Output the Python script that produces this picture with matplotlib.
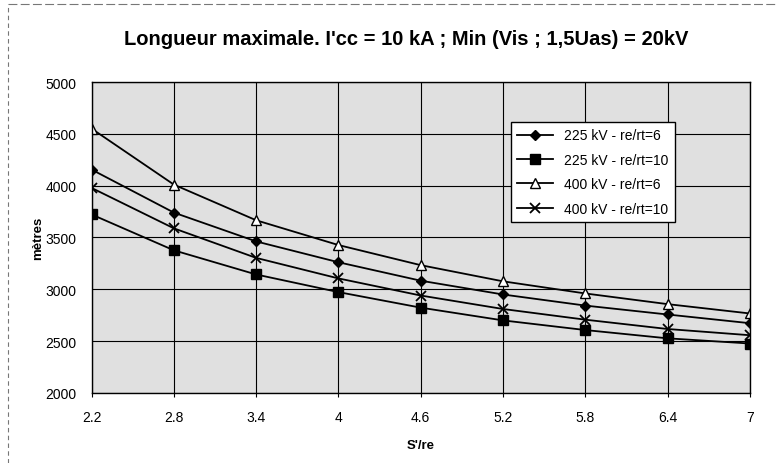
import matplotlib.pyplot as plt

plt.rcParams['font.family'] = ['Liberation Sans', 'DejaVu Sans']

# Data
s_re = [2.2, 2.8, 3.4, 4.0, 4.6, 5.2, 5.8, 6.4, 7.0]
kv225_r6 = [4155, 3740, 3462, 3261, 3083, 2950, 2843, 2757, 2673]
kv225_r10 = [3722, 3376, 3143, 2973, 2823, 2700, 2607, 2527, 2477]
kv400_r6 = [4550, 4010, 3666, 3427, 3233, 3077, 2960, 2857, 2767]
kv400_r10 = [3978, 3588, 3303, 3105, 2940, 2810, 2707, 2617, 2557]
tick_labels = ["2.2", "2.8", "3.4", "4", "4.6", "5.2", "5.8", "6.4", "7"]

fig = plt.figure(figsize=(7.77, 4.64), dpi=100)
ax = fig.add_axes([0.118, 0.151, 0.847, 0.670])
ax.set_facecolor('#e0e0e0')

ax.plot(s_re, kv225_r6, color='black', lw=1.3, marker='D', ms=5,
        mfc='black', label="225 kV - re/rt=6")
ax.plot(s_re, kv225_r10, color='black', lw=1.3, marker='s', ms=7,
        mfc='black', label="225 kV - re/rt=10")
ax.plot(s_re, kv400_r6, color='black', lw=1.3, marker='^', ms=7,
        mfc='white', mec='black', label="400 kV - re/rt=6")
ax.plot(s_re, kv400_r10, color='black', lw=1.3, marker='x', ms=7,
        mew=1.3, label="400 kV - re/rt=10")

ax.set_xlim(2.2, 7.0)
ax.set_ylim(2000, 5000)
ax.set_xticks(s_re)
ax.set_xticklabels(tick_labels)
ax.set_yticks(range(2000, 5001, 500))
ax.tick_params(axis='x', labelsize=10, length=3, pad=9)
ax.tick_params(axis='y', labelsize=10, length=0, pad=11)
ax.grid(True, color='black', lw=0.8)
ax.set_axisbelow(True)
for sp in ax.spines.values():
    sp.set_color('black')
    sp.set_linewidth(1.0)

ax.set_xlabel("S'/re", fontsize=9.5, fontweight='bold', labelpad=11)
ax.set_ylabel("mètres", fontsize=9.5, fontweight='bold', labelpad=1)

fig.text(0.523, 0.914, "Longueur maximale. I'cc = 10 kA ; Min (Vis ; 1,5Uas) = 20kV",
         ha='center', va='center', fontsize=14.5, fontweight='bold')

leg = ax.legend(loc='upper left', bbox_to_anchor=(0.637, 0.871), fontsize=10,
                frameon=True, fancybox=False, edgecolor='black',
                framealpha=1, handlelength=2.6, borderpad=0.45,
                labelspacing=0.75, borderaxespad=0)
leg.get_frame().set_linewidth(1.0)

# scan edges at left and top of the page
fig.add_artist(plt.Line2D([0.010, 0.010], [0.0, 0.99], color='#777777',
                          lw=0.8, ls=(0, (4, 3)), transform=fig.transFigure))
fig.add_artist(plt.Line2D([0.010, 1.0], [0.99, 0.99], color='#777777',
                          lw=0.8, ls=(0, (8, 3)), transform=fig.transFigure))

fig.savefig("out.png", dpi=100)
